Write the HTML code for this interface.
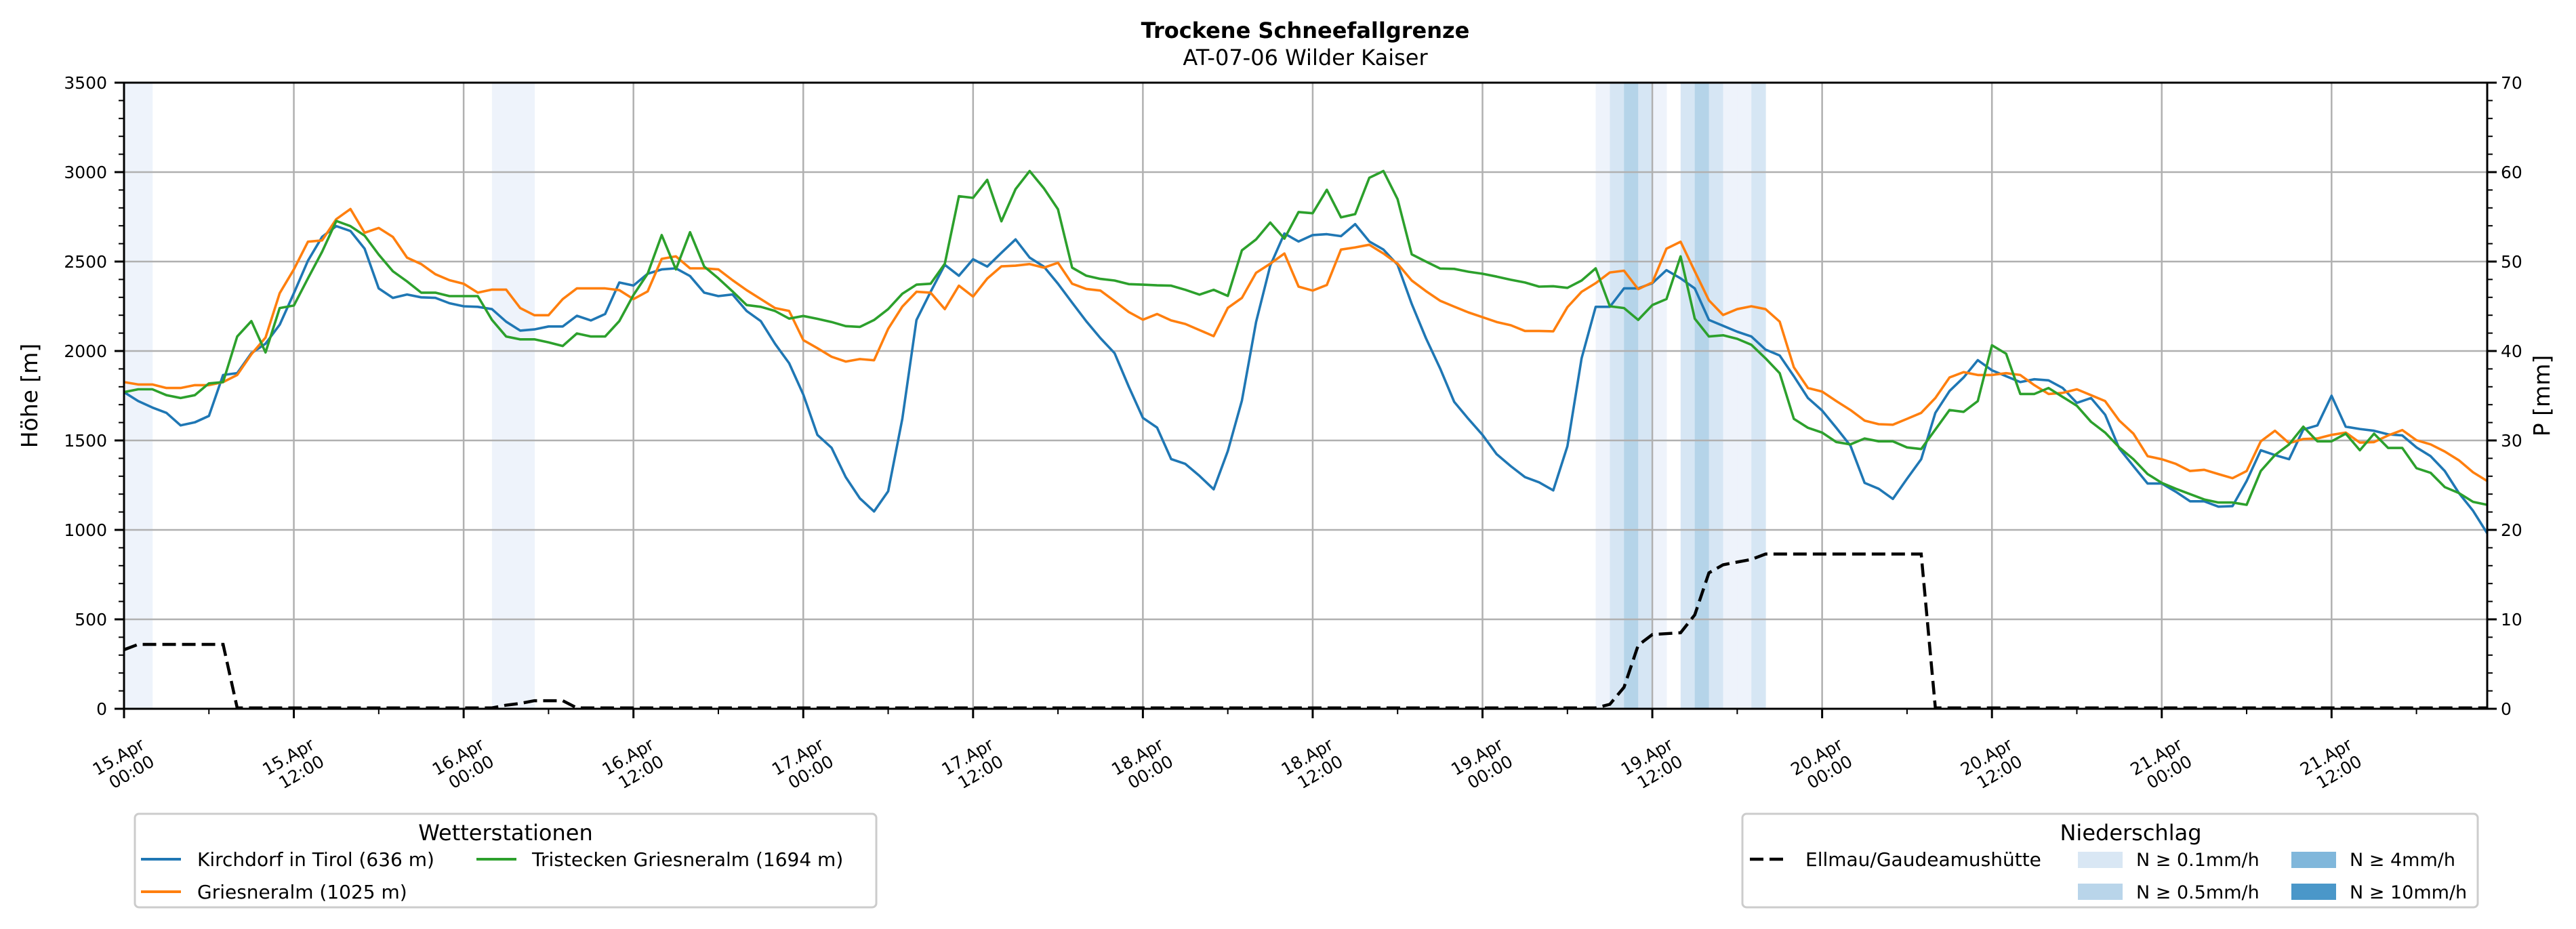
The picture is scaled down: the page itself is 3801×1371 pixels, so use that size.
<!DOCTYPE html>
<html><head><meta charset="utf-8">
<style>
html,body{margin:0;padding:0;background:#fff;}
svg{display:block;font-family:"DejaVu Sans","Liberation Sans",sans-serif;}
</style></head>
<body>
<svg id="chart" xmlns="http://www.w3.org/2000/svg" width="3801" height="1371" viewBox="0 0 3801 1371">
  <rect x="0" y="0" width="3801" height="1371" fill="#fff"/>
  <text x="1926" y="56" text-anchor="middle" font-size="32" font-weight="bold">Trockene Schneefallgrenze</text>
  <text x="1926" y="96" text-anchor="middle" font-size="32">AT-07-06 Wilder Kaiser</text>
  <g id="bars"></g>
  <g id="grid"></g>
  <g id="series"></g>
  <g id="axes"></g>
  <text transform="translate(55,584) rotate(-90)" text-anchor="middle" font-size="33">Höhe [m]</text>
  <text transform="translate(3762,584) rotate(-90)" text-anchor="middle" font-size="33">P [mm]</text>

  <g>
    <rect x="199" y="1201" width="1094" height="138" rx="6" fill="#fff" stroke="#cccccc" stroke-width="3"/>
    <text x="746" y="1240" text-anchor="middle" font-size="32">Wetterstationen</text>
    <g>
      <line x1="208" y1="1268" x2="267" y2="1268" stroke="#1f77b4" stroke-width="4"/>
      <text x="291" y="1278" font-size="28">Kirchdorf in Tirol (636 m)</text>
    </g>
    <g>
      <line x1="208" y1="1316" x2="267" y2="1316" stroke="#ff7f0e" stroke-width="4"/>
      <text x="291" y="1326" font-size="28">Griesneralm (1025 m)</text>
    </g>
    <g>
      <line x1="703" y1="1268" x2="762" y2="1268" stroke="#2ca02c" stroke-width="4"/>
      <text x="785" y="1278" font-size="28">Tristecken Griesneralm  (1694 m)</text>
    </g>
  </g>

  <g>
    <rect x="2571" y="1201" width="1085" height="138" rx="6" fill="#fff" stroke="#cccccc" stroke-width="3"/>
    <text x="3144" y="1240" text-anchor="middle" font-size="32">Niederschlag</text>
    <g>
      <line x1="2582" y1="1268" x2="2640" y2="1268" stroke="#000" stroke-width="4.5" stroke-dasharray="20,9"/>
      <text x="2664" y="1278" font-size="28">Ellmau/Gaudeamushütte</text>
    </g>
    <g>
      <rect x="3066" y="1257" width="66" height="24" fill="#d9e7f4"/>
      <text x="3152" y="1278" font-size="27">N ≥ 0.1mm/h</text>
    </g>
    <g>
      <rect x="3066" y="1304" width="66" height="24" fill="#b9d5ea"/>
      <text x="3152" y="1326" font-size="27">N ≥ 0.5mm/h</text>
    </g>
    <g>
      <rect x="3381" y="1257" width="66" height="24" fill="#80b7db"/>
      <text x="3467" y="1278" font-size="27">N ≥ 4mm/h</text>
    </g>
    <g>
      <rect x="3381" y="1304" width="66" height="24" fill="#4a97c9"/>
      <text x="3467" y="1326" font-size="27">N ≥ 10mm/h</text>
    </g>
  </g>
</svg>
<script>
// ---- data (hourly, hour 0 = 15.Apr 00:00) ----
const kirchdorf = [1770,1720,1684,1654,1584,1601,1637,1866,1876,1988,2041,2147,2323,2505,2638,2698,2671,2572,2350,2297,2316,2300,2297,2267,2250,2247,2234,2164,2114,2121,2137,2137,2197,2171,2207,2383,2366,2432,2456,2462,2419,2326,2307,2316,2224,2167,2041,1932,
1757,1531,1459,1295,1176,1103,1216,1621,2173,2331,2482,2421,2513,2472,2549,2624,2522,2472,2376,2270,2166,2072,1988,1801,1626,1572,1396,1369,1302,1227,1441,1723,2162,2477,2657,2612,2648,2653,2642,2709,2612,2567,2482,2263,2072,1903,1716,1621,1531,1423,1356,1295,1266,1221,1468,1959,
2247,2247,2350,2350,2379,2452,2406,2350,2174,2141,2108,2081,2008,1975,1859,1737,1667,1571,1471,1263,1230,1173,1286,1395,1654,1776,1852,1949,1892,1859,1826,1842,1836,1793,1710,1737,1644,1455,1356,1259,1259,1213,1160,1160,1130,1133,1273,1445,1418,1395,1561,1584,1750,1577,1564,1554,1534,1528,1461,1412,1329,1206,1107,981];
const griesneralm = [1826,1813,1813,1793,1793,1809,1809,1826,1866,1982,2075,2323,2456,2611,2618,2737,2794,2661,2688,2638,2522,2486,2429,2396,2376,2326,2343,2343,2240,2200,2200,2290,2350,2350,2350,2340,2290,2333,2515,2529,2462,2462,2456,2396,2340,2290,2240,2224,
2061,2016,1968,1941,1955,1948,2124,2248,2331,2326,2234,2365,2304,2405,2473,2477,2486,2466,2493,2376,2347,2338,2279,2218,2175,2207,2171,2151,2117,2083,2241,2297,2437,2488,2545,2360,2338,2369,2567,2579,2594,2545,2488,2394,2335,2281,2248,2216,2189,2162,2144,2112,2112,2110,2245,2331,
2379,2439,2449,2346,2383,2572,2611,2446,2283,2201,2234,2250,2234,2164,1909,1793,1773,1720,1670,1611,1591,1588,1621,1654,1737,1852,1882,1866,1866,1876,1866,1809,1760,1766,1786,1753,1720,1611,1538,1412,1395,1369,1329,1336,1312,1289,1329,1495,1554,1485,1508,1511,1531,1544,1488,1491,1528,1558,1501,1478,1438,1389,1322,1273];
const tristecken = [1770,1786,1786,1753,1737,1753,1819,1826,2081,2167,1992,2240,2254,2406,2555,2727,2698,2645,2539,2446,2389,2326,2326,2307,2307,2307,2174,2081,2065,2065,2048,2028,2098,2081,2081,2167,2313,2432,2648,2456,2664,2472,2406,2333,2257,2247,2224,2181,
2196,2180,2162,2139,2135,2173,2234,2320,2371,2376,2488,2865,2856,2957,2725,2905,3006,2910,2792,2466,2421,2403,2394,2374,2371,2367,2365,2342,2315,2342,2308,2563,2624,2718,2628,2777,2770,2901,2747,2765,2968,3006,2849,2540,2500,2461,2459,2443,2432,2416,2398,2383,2360,2362,2353,2394,
2462,2250,2240,2174,2257,2290,2529,2181,2081,2088,2068,2035,1959,1876,1621,1571,1544,1491,1478,1511,1495,1495,1461,1452,1561,1670,1660,1720,2032,1985,1760,1760,1793,1743,1694,1604,1544,1461,1395,1312,1263,1230,1200,1170,1153,1153,1140,1329,1418,1478,1577,1495,1495,1538,1445,1538,1458,1458,1345,1319,1239,1206,1157,1140];
// cumulative precipitation Ellmau [mm]: [hour, value]
const precipHours = [0,1,7,8,26,27,28,29,31,32,104,105,106,107,108,110,111,112,113,114,115,116,127,128,167];
const precipValues = [6.6,7.2,7.2,0.1,0.1,0.4,0.6,0.9,0.9,0.1,0.1,0.5,2.4,7.1,8.3,8.5,10.5,15.2,16.1,16.4,16.7,17.3,17.3,0.1,0.1];
// precipitation intensity band per hour (1 = >=0.1, 2 = >=0.5, 3 = >=4)
const bandHours = [0,1,26,27,28,104,105,106,107,108,110,111,112,113,114,115];
const bandLevels = [1,1,1,1,1,1,2,3,2,1,2,3,2,1,1,2];
const bandColors = ["#ffffff","#eef3fb","#d6e6f4","#b5d4e9","#8fbfde"];
const dayLabels = ["15.Apr","15.Apr","16.Apr","16.Apr","17.Apr","17.Apr","18.Apr","18.Apr","19.Apr","19.Apr","20.Apr","20.Apr","21.Apr","21.Apr"];
const timeLabels = ["00:00","12:00","00:00","12:00","00:00","12:00","00:00","12:00","00:00","12:00","00:00","12:00","00:00","12:00"];
const yTicks = [0,500,1000,1500,2000,2500,3000,3500];
const y2Ticks = [0,10,20,30,40,50,60,70];

// ---- axes ----
const L=183,R=3670,T=122,B=1046,HMAX=167;
const xs = h => L + h*(R-L)/HMAX;
const ys = m => B - m*(B-T)/3500;
const yp = p => B - p*(B-T)/70;
const NS="http://www.w3.org/2000/svg";
function mk(tag, attrs, parent){const e=document.createElementNS(NS,tag);for(const k in attrs)e.setAttribute(k,attrs[k]);parent.appendChild(e);return e;}
const bars=document.getElementById('bars'), grid=document.getElementById('grid'), series=document.getElementById('series'), axes=document.getElementById('axes');

bandHours.forEach((h,i)=>{
  const r=mk('rect',{x:xs(h),y:T,width:xs(h+1)-xs(h)+0.5,height:B-T,fill:bandColors[bandLevels[i]]},bars);
  
  
});

yTicks.forEach(v=>{
  const g=mk('line',{x1:L,x2:R,y1:ys(v),y2:ys(v),stroke:'#b0b0b0','stroke-width':2.5},grid);
  
  
});
for(let i=0;i<dayLabels.length;i++){
  const h=i*12;
  const g=mk('line',{x1:xs(h),x2:xs(h),y1:T,y2:B,stroke:'#b0b0b0','stroke-width':2.5},grid);
  
  
}

function line(data,color,name){
  const d=data.map((v,h)=>(h?'L':'M')+xs(h).toFixed(1)+','+ys(v).toFixed(1)).join('');
  const p=mk('path',{d:d,fill:'none',stroke:color,'stroke-width':3.6,'stroke-linejoin':'round'},series);
  
  
}
line(kirchdorf,'#1f77b4','kirchdorf-line');
line(griesneralm,'#ff7f0e','griesneralm-line');
line(tristecken,'#2ca02c','tristecken-line');
{
  const d=precipHours.map((h,i)=>(i?'L':'M')+xs(h).toFixed(1)+','+yp(precipValues[i]).toFixed(1)).join('');
  const p=mk('path',{d:d,fill:'none',stroke:'#000','stroke-width':4.5,'stroke-dasharray':'20,9'},series);
  
  
}

// frame
mk('rect',{x:L,y:T,width:R-L,height:B-T,fill:'none',stroke:'#000','stroke-width':3},axes);
// y ticks
for(let v=0;v<=3500;v+=100){
  const major=v%500===0;
  mk('line',{x1:L-(major?14:8),x2:L,y1:ys(v),y2:ys(v),stroke:'#000','stroke-width':major?3:2},axes);
  mk('line',{x1:R,x2:R+(major?14:8),y1:ys(v),y2:ys(v),stroke:'#000','stroke-width':major?3:2},axes);
}
yTicks.forEach(v=>{
  const t=mk('text',{x:158,y:ys(v)+9,'text-anchor':'end','font-size':25},axes);
  t.textContent=v;
  
  
});
y2Ticks.forEach(v=>{
  const t=mk('text',{x:3690,y:yp(v)+9,'text-anchor':'start','font-size':25},axes);
  t.textContent=v;
  
  
});
// x ticks
for(let h=0;h<=HMAX;h+=6){
  const major=h%12===0;
  mk('line',{x1:xs(h),x2:xs(h),y1:B,y2:B+(major?14:8),stroke:'#000','stroke-width':major?3:2},axes);
}
dayLabels.forEach((d,i)=>{
  const g=mk('g',{transform:`translate(${xs(i*12).toFixed(1)},1128) rotate(-30)`},axes);
  
  
  const t1=mk('text',{x:40,y:-5,'text-anchor':'end','font-size':25},g); t1.textContent=d;
  const t2=mk('text',{x:40,y:24,'text-anchor':'end','font-size':25},g); t2.textContent=timeLabels[i];
});
</script>
</body></html>
